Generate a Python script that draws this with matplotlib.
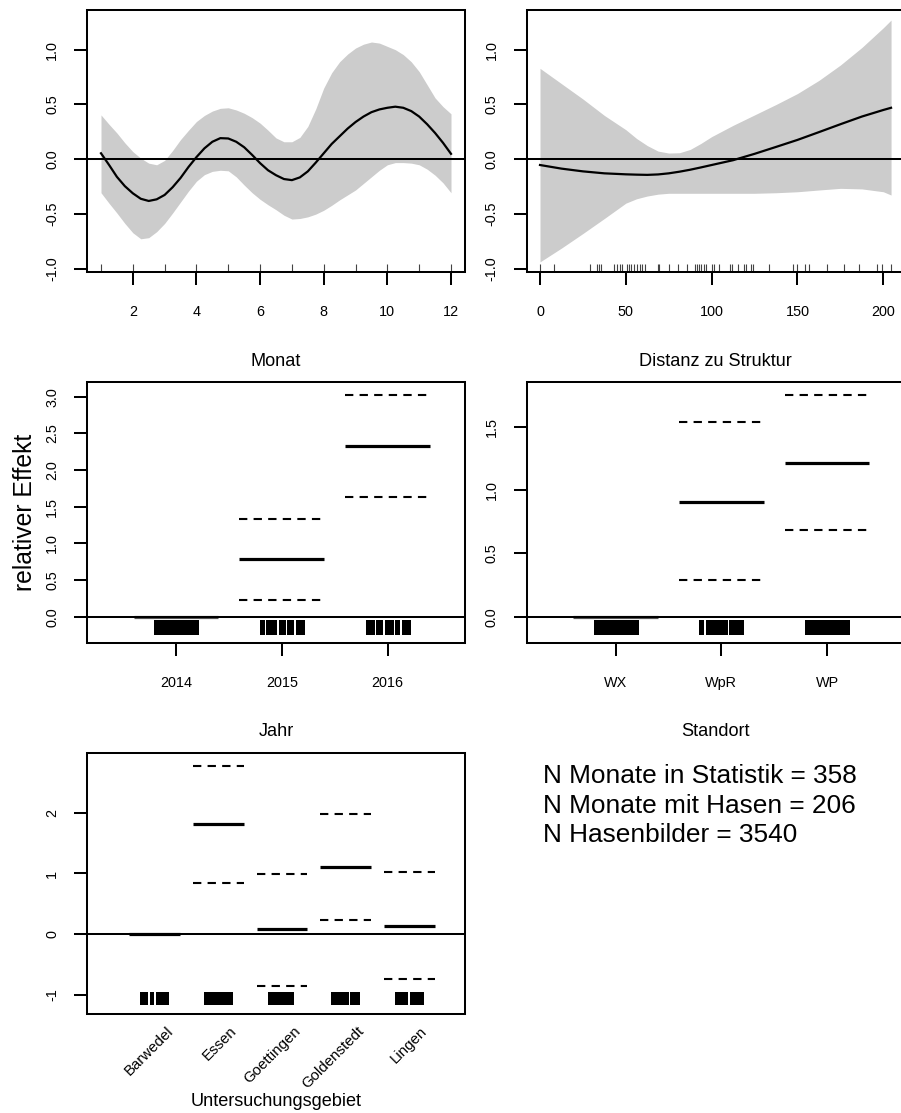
import matplotlib
matplotlib.use('Agg')
import matplotlib.pyplot as plt
import matplotlib.transforms as mtransforms

plt.rcParams['font.family'] = ['Liberation Sans', 'DejaVu Sans']

# ---------------- data ----------------
monat_x = [1.0, 1.25, 1.5, 1.75, 2.0, 2.25, 2.5, 2.75, 3.0, 3.25, 3.5, 3.75,
           4.0, 4.25, 4.5, 4.75, 5.0, 5.25, 5.5, 5.75, 6.0, 6.25, 6.5, 6.75,
           7.0, 7.25, 7.5, 7.75, 8.0, 8.25, 8.5, 8.75, 9.0, 9.25, 9.5, 9.75,
           10.0, 10.25, 10.5, 10.75, 11.0, 11.25, 11.5, 11.75, 12.0]
monat_fit = [0.055, -0.05, -0.16, -0.245, -0.31, -0.36, -0.38, -0.365, -0.325,
             -0.255, -0.17, -0.07, 0.02, 0.10, 0.16, 0.193, 0.19, 0.16, 0.11,
             0.04, -0.035, -0.10, -0.145, -0.18, -0.19, -0.165, -0.11, -0.03,
             0.055, 0.14, 0.21, 0.28, 0.34, 0.39, 0.43, 0.455, 0.47, 0.48, 0.47,
             0.44, 0.39, 0.32, 0.24, 0.15, 0.05]
monat_upper = [0.405, 0.32, 0.24, 0.15, 0.07, 0.01, -0.035, -0.05, -0.01, 0.08,
               0.18, 0.265, 0.345, 0.40, 0.44, 0.465, 0.47, 0.45, 0.42, 0.38,
               0.33, 0.265, 0.195, 0.16, 0.16, 0.20, 0.30, 0.46, 0.65, 0.79,
               0.89, 0.96, 1.015, 1.05, 1.07, 1.06, 1.03, 1.00, 0.955, 0.89,
               0.80, 0.68, 0.56, 0.48, 0.415]
monat_lower = [-0.305, -0.40, -0.49, -0.585, -0.67, -0.725, -0.715, -0.66,
               -0.585, -0.49, -0.39, -0.29, -0.20, -0.14, -0.11, -0.10, -0.105,
               -0.16, -0.235, -0.305, -0.365, -0.415, -0.46, -0.51, -0.545,
               -0.54, -0.525, -0.50, -0.465, -0.42, -0.37, -0.325, -0.28, -0.22,
               -0.16, -0.10, -0.05, -0.03, -0.03, -0.035, -0.05, -0.09, -0.145,
               -0.215, -0.305]
monat_rug = [1, 2, 3, 4, 5, 6, 7, 8, 9, 10, 11, 12]
monat_ticks = [2, 4, 6, 8, 10, 12]

dist_x = [0, 12.5, 25, 37.5, 50, 56.25, 62.5, 68.75, 75, 81.25, 87.5, 93.75,
          100, 112.5, 125, 137.5, 150, 162.5, 175, 187.5, 200, 204.5]
dist_fit = [-0.052, -0.085, -0.11, -0.128, -0.137, -0.140, -0.142, -0.138,
            -0.128, -0.113, -0.095, -0.074, -0.052, -0.008, 0.05, 0.113, 0.177,
            0.248, 0.32, 0.39, 0.45, 0.47]
dist_upper = [0.83, 0.69, 0.55, 0.40, 0.27, 0.19, 0.125, 0.075, 0.057, 0.06,
              0.09, 0.145, 0.207, 0.31, 0.405, 0.50, 0.60, 0.72, 0.86, 1.02,
              1.20, 1.27]
dist_lower = [-0.936, -0.81, -0.677, -0.54, -0.40, -0.36, -0.335, -0.318, -0.31,
              -0.31, -0.31, -0.31, -0.31, -0.31, -0.31, -0.305, -0.296, -0.28,
              -0.265, -0.27, -0.296, -0.326]
dist_rug = [0, 8.2, 29.1, 33.0, 34.4, 35.3, 43.1, 45.1, 46.6, 48.0, 50.5, 51.6,
            53.0, 54.8, 56.3, 58.3, 59.6, 61.2, 68.5, 69.5, 75.3, 80.6, 85.4,
            90.3, 91.3, 92.6, 93.6, 95.5, 96.7, 100.0, 101.4, 104.3, 110.7,
            111.7, 115.2, 119.0, 120.0, 122.9, 123.9, 133.4, 147.2, 149.9,
            154.4, 156.9, 167.0, 177.3, 186.0, 196.1, 199.0, 204.5]
dist_ticks = [0, 50, 100, 150, 200]
top_yticks = [-1.0, -0.5, 0.0, 0.5, 1.0]

jahr_levels = ['2014', '2015', '2016']
jahr_fit = [0.0, 0.782, 2.332]
jahr_upper = [0.0, 1.332, 3.023]
jahr_lower = [0.0, 0.227, 1.636]
jahr_rug = [
    [-0.20, -0.18, -0.16, -0.14, -0.12, -0.10, -0.08, -0.06, -0.04, -0.02, 0.00,
     0.02, 0.04, 0.06, 0.08, 0.10, 0.12, 0.14, 0.16, 0.18, 0.20],
    [-0.20, -0.18, -0.14, -0.12, -0.10, -0.08, -0.06, -0.02, 0.00,
     0.02, 0.06, 0.08, 0.10, 0.14, 0.16, 0.18, 0.20],
    [-0.20, -0.18, -0.16, -0.14, -0.10, -0.08, -0.06, -0.02, 0.00,
     0.02, 0.04, 0.08, 0.10, 0.14, 0.16, 0.18, 0.20],
]
jahr_yticks = [0.0, 0.5, 1.0, 1.5, 2.0, 2.5, 3.0]

standort_levels = ['WX', 'WpR', 'WP']
standort_fit = [0.0, 0.903, 1.216]
standort_upper = [0.0, 1.534, 1.747]
standort_lower = [0.0, 0.289, 0.684]
standort_rug = [
    [-0.20, -0.18, -0.16, -0.14, -0.12, -0.10, -0.08, -0.06, -0.04, -0.02, 0.00,
     0.02, 0.04, 0.06, 0.08, 0.10, 0.12, 0.14, 0.16, 0.18, 0.20],
    [-0.20, -0.18, -0.14, -0.12, -0.10, -0.08, -0.06, -0.04, -0.02, 0.00,
     0.02, 0.04, 0.08, 0.10, 0.12, 0.14, 0.16, 0.18, 0.20],
    [-0.20, -0.18, -0.16, -0.14, -0.12, -0.10, -0.08, -0.06, -0.04, -0.02, 0.00,
     0.02, 0.04, 0.06, 0.08, 0.10, 0.12, 0.14, 0.16, 0.18, 0.20],
]
standort_yticks = [0.0, 0.5, 1.0, 1.5]

gebiet_levels = ['Barwedel', 'Essen', 'Goettingen', 'Goldenstedt', 'Lingen']
gebiet_fit = [0.0, 1.822, 0.077, 1.10, 0.138]
gebiet_upper = [0.0, 2.774, 0.996, 1.976, 1.018]
gebiet_lower = [0.0, 0.842, -0.859, 0.226, -0.743]
gebiet_rug = [
    [-0.21, -0.18, -0.15, -0.12, -0.06, -0.03, 0.03, 0.06, 0.09, 0.12, 0.15, 0.18, 0.21],
    [-0.21, -0.18, -0.15, -0.12, -0.09, -0.06, -0.03, 0.00, 0.03, 0.06, 0.09, 0.12, 0.15, 0.18, 0.21],
    [-0.21, -0.18, -0.15, -0.12, -0.09, -0.06, -0.03, 0.00, 0.03, 0.06, 0.09, 0.12, 0.15, 0.18],
    [-0.21, -0.18, -0.15, -0.12, -0.09, -0.06, -0.03, 0.00, 0.03, 0.09, 0.12, 0.15, 0.18, 0.21],
    [-0.21, -0.18, -0.15, -0.12, -0.09, -0.06, -0.03, 0.03, 0.06, 0.09, 0.12, 0.15, 0.18, 0.21],
]
gebiet_yticks = [-1, 0, 1, 2]

info_lines = ['N Monate in Statistik = 358',
              'N Monate mit Hasen = 206',
              'N Hasenbilder = 3540']

# ---------------- figure ----------------
W, H = 901, 1113
fig = plt.figure(figsize=(W / 100, H / 100), dpi=100)


def box(left, top, right, bottom):
    return [left / W, 1 - bottom / H, (right - left) / W, (bottom - top) / H]


ax_m = fig.add_axes(box(87, 10, 465, 272))
ax_d = fig.add_axes(box(526.7, 10, 904.7, 272))
ax_j = fig.add_axes(box(87, 381.7, 465, 642.7))
ax_s = fig.add_axes(box(526.7, 381.7, 904.7, 642.7))
ax_g = fig.add_axes(box(87, 753.3, 465, 1014))

LW = 1.45
TICK_FS = 10.4
LAB_FS = 13.1


def style(ax, yticks, ylabels):
    for s in ax.spines.values():
        s.set_linewidth(LW)
    ax.set_yticks(yticks, ylabels)
    ax.tick_params(axis='both', width=LW, labelsize=TICK_FS, direction='out')
    ax.tick_params(axis='x', length=9.4, pad=14.5)
    ax.tick_params(axis='y', length=9.6, pad=10.5)
    for lab in ax.get_yticklabels():
        lab.set_rotation(90)
        lab.set_va('center')


def xlabel(ax, text, frac):
    ax.set_xlabel(text, fontsize=LAB_FS)
    ax.xaxis.set_label_coords(0.5, frac)
    ax.xaxis.label.set_va('center')


# --- smooth panels ---
for ax, xs, fit, up, lo, rug, xt, lab in [
        (ax_m, monat_x, monat_fit, monat_upper, monat_lower, monat_rug, monat_ticks, 'Monat'),
        (ax_d, dist_x, dist_fit, dist_upper, dist_lower, dist_rug, dist_ticks, 'Distanz zu Struktur')]:
    ax.fill_between(xs, lo, up, color='#cccccc', linewidth=0, zorder=1)
    ax.plot(xs, fit, color='black', lw=1.6, zorder=3, solid_joinstyle='round')
    ax.axhline(0, color='black', lw=LW, zorder=2)
    ax.vlines(rug, 0, 0.03, transform=ax.get_xaxis_transform(),
              color='#444444', lw=0.8, zorder=2)
    ax.set_xticks(xt, [str(v) for v in xt])
    style(ax, top_yticks, ['%.1f' % v for v in top_yticks])
    ax.set_ylim(-1.028, 1.362)
    xlabel(ax, lab, -0.340)

ax_m.set_xlim(0.56, 12.44)
ax_d.set_xlim(-7.75, 212.45)


# --- factor panels ---
def factor_panel(ax, levels, fit, up, lo, rug, rug_lw, ref_color):
    pos = list(range(1, len(levels) + 1))
    for p, f, u, l in zip(pos, fit, up, lo):
        if u != l:
            for v in (u, l):
                ax.plot([p - 0.4, p + 0.4], [v, v], color='black', lw=1.5,
                        linestyle=(0, (4, 3)), dash_capstyle='butt', zorder=2)
        col = ref_color if f == 0 else 'black'
        ax.plot([p - 0.4, p + 0.4], [f, f], color=col, lw=2.3,
                solid_capstyle='butt', zorder=2)
    ax.axhline(0, color='black', lw=LW, zorder=3)
    trans = ax.get_xaxis_transform()
    for p, offs in zip(pos, rug):
        ax.vlines([p + o for o in offs], 0.033, 0.086, transform=trans,
                  color='black', lw=rug_lw, zorder=2, antialiased=False)
    return pos


pos = factor_panel(ax_j, jahr_levels, jahr_fit, jahr_upper, jahr_lower, jahr_rug, 2.0, '#555555')
ax_j.set_xticks(pos, jahr_levels)
style(ax_j, jahr_yticks, ['%.1f' % v for v in jahr_yticks])
ax_j.set_xlim(0.16, 3.73)
ax_j.set_ylim(-0.3545, 3.2045)
xlabel(ax_j, 'Jahr', -0.342)
ax_j.set_ylabel('relativer Effekt', fontsize=17.8)
ax_j.yaxis.set_label_coords(-0.164, 0.5)
ax_j.yaxis.label.set_va('center')

pos = factor_panel(ax_s, standort_levels, standort_fit, standort_upper, standort_lower,
                   standort_rug, 2.0, '#555555')
ax_s.set_xticks(pos, standort_levels)
style(ax_s, standort_yticks, ['%.1f' % v for v in standort_yticks])
ax_s.set_xlim(0.158, 3.735)
ax_s.set_ylim(-0.2053, 1.8553)
xlabel(ax_s, 'Standort', -0.342)

pos = factor_panel(ax_g, gebiet_levels, gebiet_fit, gebiet_upper, gebiet_lower,
                   gebiet_rug, 1.3, 'black')
ax_g.set_xticks([])
style(ax_g, gebiet_yticks, [str(v) for v in gebiet_yticks])
ax_g.set_xlim(-0.066, 5.877)
ax_g.set_ylim(-1.321, 2.984)
lab_trans = mtransforms.offset_copy(ax_g.get_xaxis_transform(), fig=fig,
                                    x=16, y=-15, units='dots')
for p, name in zip(pos, gebiet_levels):
    ax_g.text(p, 0, name, transform=lab_trans, rotation=45, ha='right', va='center',
              rotation_mode='anchor', fontsize=10.8)
xlabel(ax_g, 'Untersuchungsgebiet', -0.334)

# --- info text ---
for line, base in zip(info_lines, [782.7, 812.7, 841.7]):
    fig.text(543.3 / W, 1 - base / H, line, fontsize=18.9, va='baseline', ha='left')

fig.savefig('out.png', dpi=100)
